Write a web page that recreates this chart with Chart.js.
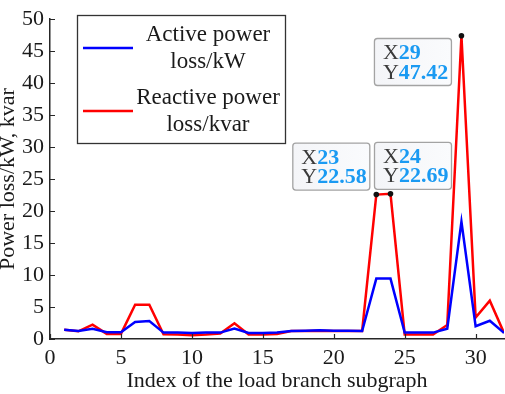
<!DOCTYPE html>
<html>
<head>
<meta charset="utf-8">
<script src="https://cdn.jsdelivr.net/npm/chart.js@4/dist/chart.umd.min.js"></script>
<style>
    html, body { margin: 0; padding: 0; background: #fff; }
    #wrap { width: 505px; height: 394px; position: relative; }
</style>
</head>
<body>
<div id="wrap"><canvas id="chart"></canvas></div>
<script>
const branchIndex = [1,2,3,4,5,6,7,8,9,10,11,12,13,14,15,16,17,18,19,20,21,22,23,24,25,26,27,28,29,30,31,32];
const activeLoss = [1.45,1.25,1.6,1.05,1.05,2.65,2.8,1.0,1.0,0.95,1.0,1.0,1.65,0.95,0.95,1.0,1.25,1.3,1.35,1.3,1.3,1.25,9.45,9.45,1.0,1.0,1.0,1.6,18.35,2.0,2.85,0.95];
const reactiveLoss = [1.45,1.2,2.25,0.8,0.8,5.35,5.35,0.75,0.7,0.6,0.7,0.85,2.45,0.7,0.7,0.8,1.25,1.25,1.3,1.25,1.25,1.25,22.58,22.69,0.7,0.7,0.7,2.2,47.42,3.35,6.0,0.95];
const xTicks = [0, 5, 10, 15, 20, 25, 30];
const yTicks = [0, 5, 10, 15, 20, 25, 30, 35, 40, 45, 50];
const legendLabels = [['Active power', 'loss/kW'], ['Reactive power', 'loss/kvar']];
const tipIndices = [23, 24, 29];

const SERIF = "'Liberation Serif', 'Times New Roman', serif";
const TIP_BLUE = '#1a9af2';

// inward tick marks, like the original axes
const innerTicks = {
    id: 'innerTicks',
    afterDraw(chart) {
        const { ctx, scales: { x, y }, chartArea } = chart;
        ctx.save();
        ctx.strokeStyle = '#262626';
        ctx.lineWidth = 1.2;
        ctx.beginPath();
        xTicks.forEach(v => {
            const px = Math.round(x.getPixelForValue(v)) + 0.5;
            ctx.moveTo(px, chartArea.bottom);
            ctx.lineTo(px, chartArea.bottom - 5);
        });
        yTicks.forEach(v => {
            const py = Math.round(y.getPixelForValue(v)) + 0.5;
            ctx.moveTo(chartArea.left, py);
            ctx.lineTo(chartArea.left + 5, py);
        });
        ctx.stroke();
        ctx.restore();
    }
};

// boxed legend with two-line labels
const boxLegend = {
    id: 'boxLegend',
    afterDraw(chart) {
        const { ctx } = chart;
        ctx.save();
        ctx.fillStyle = '#fff';
        ctx.fillRect(77, 15, 208, 128);
        ctx.strokeStyle = '#333';
        ctx.lineWidth = 1.3;
        ctx.strokeRect(77.5, 15.5, 208, 128);
        ctx.font = `23px ${SERIF}`;
        ctx.textAlign = 'center';
        ctx.textBaseline = 'middle';
        const rows = [48, 111];
        chart.data.datasets.forEach((ds, i) => {
            ctx.strokeStyle = ds.borderColor;
            ctx.lineWidth = 2.5;
            ctx.beginPath();
            ctx.moveTo(83, rows[i]);
            ctx.lineTo(133, rows[i]);
            ctx.stroke();
            ctx.fillStyle = '#1a1a1a';
            ctx.fillText(legendLabels[i][0], 208, rows[i] - 13);
            ctx.fillText(legendLabels[i][1], 208, rows[i] + 14);
        });
        ctx.restore();
    }
};

// MATLAB style data tips on the reactive series
const dataTips = {
    id: 'dataTips',
    afterDatasetsDraw(chart) {
        const { ctx, scales: { x, y } } = chart;
        const offsets = { 23: [-84, -52], 24: [-16.5, -52], 29: [-87.5, 2.3] };
        ctx.save();
        tipIndices.forEach(idx => {
            const val = reactiveLoss[branchIndex.indexOf(idx)];
            const px = x.getPixelForValue(idx);
            const py = y.getPixelForValue(val);
            const bx = px + offsets[idx][0];
            const by = py + offsets[idx][1];
            const w = 77, h = 47;

            const grad = ctx.createLinearGradient(bx, by, bx + w, by);
            grad.addColorStop(0, '#f4f5f8');
            grad.addColorStop(1, '#fafbfd');
            ctx.fillStyle = grad;
            ctx.strokeStyle = '#a3a3a3';
            ctx.lineWidth = 1.3;
            ctx.beginPath();
            ctx.roundRect(bx + 0.5, by + 0.5, w, h, 3);
            ctx.fill();
            ctx.stroke();

            ctx.textBaseline = 'alphabetic';
            ctx.textAlign = 'left';
            const lines = [['X', String(idx)], ['Y', val.toFixed(2)]];
            lines.forEach(([k, v], j) => {
                const base = by + 21 + j * 19.5;
                ctx.font = `22px ${SERIF}`;
                ctx.fillStyle = '#3a3a3a';
                ctx.fillText(k, bx + 9, base);
                const kw = ctx.measureText(k).width;
                ctx.font = `bold 22px ${SERIF}`;
                ctx.fillStyle = TIP_BLUE;
                ctx.fillText(v, bx + 9 + kw, base);
            });

            ctx.fillStyle = '#111';
            ctx.beginPath();
            ctx.arc(px, py, 2.8, 0, Math.PI * 2);
            ctx.fill();
        });
        ctx.restore();
    }
};

const toPoints = vals => branchIndex.map((b, i) => ({ x: b, y: vals[i] }));

new Chart(document.getElementById('chart'), {
    type: 'line',
    data: {
        datasets: [
            {
                label: legendLabels[0].join(' '),
                data: toPoints(activeLoss),
                borderColor: '#0000ff',
                borderWidth: 2.5,
                pointRadius: 0,
                tension: 0
            },
            {
                label: legendLabels[1].join(' '),
                data: toPoints(reactiveLoss),
                borderColor: '#ff0000',
                borderWidth: 2.5,
                pointRadius: 0,
                tension: 0
            }
        ]
    },
    options: {
        responsive: true,
        maintainAspectRatio: false,
        animation: false,
        layout: { padding: { top: 6, right: 1, left: 0, bottom: 0 } },
        plugins: {
            legend: { display: false },
            tooltip: { enabled: false }
        },
        scales: {
            x: {
                type: 'linear',
                min: 0,
                max: 32,
                afterBuildTicks: s => { s.ticks = xTicks.map(v => ({ value: v })); },
                afterFit: s => { s.height = 55; },
                grid: { display: false, drawTicks: false },
                border: { display: true, color: '#262626', width: 1.5 },
                ticks: {
                    color: '#1a1a1a',
                    padding: 6,
                    maxRotation: 0,
                    font: { family: SERIF, size: 22 }
                },
                title: {
                    display: true,
                    text: 'Index of the load branch subgraph',
                    color: '#1a1a1a',
                    padding: { top: 0, bottom: 0 },
                    font: { family: SERIF, size: 22 }
                }
            },
            y: {
                min: 0,
                max: 50,
                afterBuildTicks: s => { s.ticks = yTicks.map(v => ({ value: v })); },
                afterFit: s => { s.width = 50; },
                grid: { display: false, drawTicks: false },
                border: { display: true, color: '#262626', width: 1.5 },
                ticks: {
                    color: '#1a1a1a',
                    padding: 6,
                    font: { family: SERIF, size: 22 }
                },
                title: {
                    display: true,
                    text: 'Power loss/kW, kvar',
                    color: '#1a1a1a',
                    padding: { top: 0, bottom: 0 },
                    font: { family: SERIF, size: 22, lineHeight: 0.75 }
                }
            }
        }
    },
    plugins: [innerTicks, dataTips, boxLegend]
});
</script>
</body>
</html>
